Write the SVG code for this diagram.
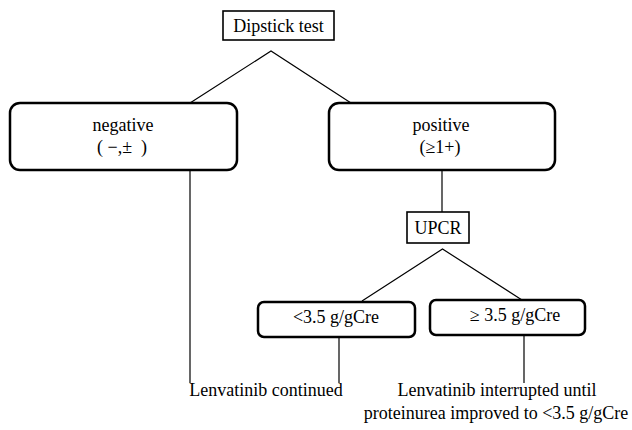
<svg xmlns="http://www.w3.org/2000/svg" width="632" height="430" viewBox="0 0 632 430">
<style>
text{font-family:'Liberation Serif','Times New Roman','DejaVu Serif',serif;font-size:18px;fill:#000;text-anchor:middle;white-space:pre}
.box{fill:#fff;stroke:#000;stroke-width:2.5}
.sq{fill:#fff;stroke:#000;stroke-width:1.6}
.ln{stroke:#000;stroke-width:1.2;fill:none}
</style>
<rect width="632" height="430" fill="#fff"/>
<g id="connectors">
<polyline class="ln" points="190,103 271,51 351,103"/>
<line class="ln" x1="190" y1="170" x2="190" y2="383"/>
<line class="ln" x1="442" y1="170" x2="442" y2="212"/>
<polyline class="ln" points="362,301 442.5,249 522,300"/>
<line class="ln" x1="339" y1="337" x2="339" y2="383"/>
<line class="ln" x1="524" y1="335" x2="524" y2="383"/>
</g>
<g id="dipstick">
<rect class="sq" x="223" y="11" width="111" height="29"/>
<text x="278.5" y="32">Dipstick test</text>
</g>
<g id="negative">
<rect class="box" x="10" y="103" width="227" height="67" rx="10"/>
<text x="123" y="131">negative</text>
<text x="122" y="153" xml:space="preserve">( −,±  )</text>
</g>
<g id="positive">
<rect class="box" x="329" y="103" width="226" height="67" rx="10"/>
<text x="441" y="131">positive</text>
<text x="440" y="153">(≥1+)</text>
</g>
<g id="upcr">
<rect class="sq" x="407" y="212" width="62" height="31"/>
<text x="438" y="234">UPCR</text>
</g>
<g id="lt35">
<rect class="box" x="258" y="302" width="157" height="35" rx="6"/>
<text x="336" y="323">&lt;3.5 g/gCre</text>
</g>
<g id="ge35">
<rect class="box" x="430" y="300" width="155" height="35" rx="6"/>
<text x="515" y="321">≥ 3.5 g/gCre</text>
</g>
<g id="continued">
<text x="266" y="396">Lenvatinib continued</text>
</g>
<g id="interrupted">
<text x="497" y="396">Lenvatinib interrupted until</text>
<text x="496" y="419">proteinurea improved to &lt;3.5 g/gCre</text>
</g>
</svg>
